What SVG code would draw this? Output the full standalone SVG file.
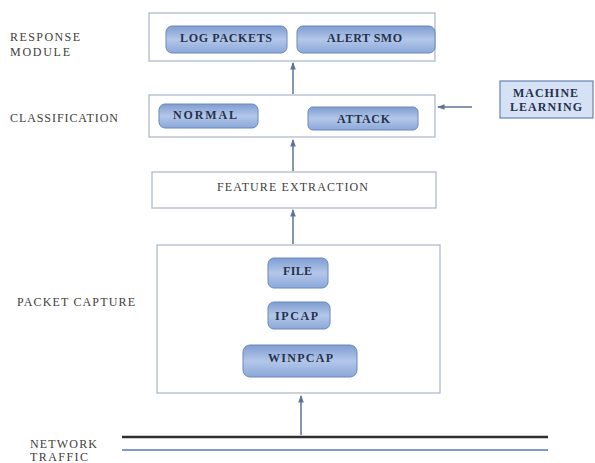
<svg xmlns="http://www.w3.org/2000/svg" width="595" height="463" viewBox="0 0 595 463">
<defs>
<linearGradient id="pill" x1="0" y1="0" x2="0" y2="1">
<stop offset="0" stop-color="#7f9dd1"/>
<stop offset="0.5" stop-color="#b3c7e9"/>
<stop offset="1" stop-color="#8ba8d9"/>
</linearGradient>
<marker id="ah" viewBox="0 0 8 8" refX="7" refY="4" markerWidth="5" markerHeight="5" orient="auto">
<path d="M0,1 L8,4 L0,7 z" fill="#5d7399"/>
</marker>
</defs>
<style>
.frame{fill:#ffffff;stroke:#aab6ca;stroke-width:1.2}
.pill{fill:url(#pill);stroke:#6b87bb;stroke-width:1}
.lbl{font-family:"Liberation Serif",serif;font-size:12px;fill:#404040}
.pt{font-family:"Liberation Serif",serif;font-size:12px;fill:#26324d;text-anchor:middle;font-weight:bold}
.ct{font-family:"Liberation Serif",serif;font-size:12px;fill:#404040;text-anchor:middle}
.conn{stroke:#5d7399;stroke-width:1.5;fill:none;marker-end:url(#ah)}
</style>
<rect width="595" height="463" fill="#ffffff"/>

<g id="labels">
<text class="lbl" x="10" y="41" textLength="70" lengthAdjust="spacing">RESPONSE</text>
<text class="lbl" x="10" y="56" textLength="60" lengthAdjust="spacing">MODULE</text>
<text class="lbl" x="10" y="122" textLength="108" lengthAdjust="spacing">CLASSIFICATION</text>
<text class="lbl" x="17" y="306" textLength="118" lengthAdjust="spacing">PACKET CAPTURE</text>
<text class="lbl" x="30" y="448" textLength="67" lengthAdjust="spacing">NETWORK</text>
<text class="lbl" x="30" y="461" font-size="11" textLength="58" lengthAdjust="spacing">TRAFFIC</text>
</g>

<g id="response-module">
<rect class="frame" x="149" y="13" width="286" height="48"/>
<g id="log-packets">
<rect class="pill" x="166" y="26" width="121" height="27" rx="6"/>
<text class="pt" x="226" y="41.5" textLength="92" lengthAdjust="spacing">LOG PACKETS</text>
</g>
<g id="alert-smo">
<rect class="pill" x="297" y="26" width="138" height="27" rx="6"/>
<text class="pt" x="364.5" y="41.5" textLength="75" lengthAdjust="spacing">ALERT SMO</text>
</g>
</g>

<g id="classification">
<rect class="frame" x="149" y="95" width="286" height="42"/>
<g id="normal">
<rect class="pill" x="159" y="104" width="99" height="24" rx="6"/>
<text class="pt" x="205" y="118.5" textLength="64" lengthAdjust="spacing">NORMAL</text>
</g>
<g id="attack">
<rect class="pill" x="308" y="107" width="110" height="23" rx="5"/>
<text class="pt" x="363.5" y="122.5" textLength="53" lengthAdjust="spacing">ATTACK</text>
</g>
</g>

<g id="machine-learning">
<rect x="500" y="81" width="93" height="37" fill="#d5e1f4" stroke="#6783b5" stroke-width="1.2"/>
<text class="pt" x="545.5" y="97" font-weight="normal" textLength="65" lengthAdjust="spacing">MACHINE</text>
<text class="pt" x="546" y="111" font-weight="normal" textLength="72" lengthAdjust="spacing">LEARNING</text>
</g>

<g id="feature-extraction">
<rect class="frame" x="152" y="172" width="284" height="36"/>
<text class="ct" x="292.5" y="191" textLength="151" lengthAdjust="spacing">FEATURE EXTRACTION</text>
</g>

<g id="packet-capture">
<rect class="frame" x="157" y="245" width="283" height="148"/>
<g id="file">
<rect class="pill" x="268" y="258" width="60" height="30" rx="6"/>
<text class="pt" x="297.5" y="274.5" textLength="29" lengthAdjust="spacing">FILE</text>
</g>
<g id="ipcap">
<rect class="pill" x="268" y="302" width="62" height="27" rx="6"/>
<text class="pt" x="296.5" y="319.5" textLength="43" lengthAdjust="spacing">IPCAP</text>
</g>
<g id="winpcap">
<rect class="pill" x="243" y="345" width="114" height="32" rx="7"/>
<text class="pt" x="300.5" y="361.5" textLength="65" lengthAdjust="spacing">WINPCAP</text>
</g>
</g>

<g id="network-traffic">
<line x1="122" y1="437" x2="548" y2="437" stroke="#2e2e2e" stroke-width="2.5"/>
<line x1="122" y1="450" x2="548" y2="450" stroke="#7f9ccc" stroke-width="2"/>
</g>

<g id="connectors">
<line class="conn" x1="293" y1="94" x2="293" y2="63"/>
<line class="conn" x1="293" y1="171" x2="293" y2="140"/>
<line class="conn" x1="293" y1="244" x2="293" y2="210"/>
<line class="conn" x1="301" y1="435" x2="301" y2="396"/>
<line class="conn" x1="472" y1="107" x2="438" y2="107"/>
</g>
</svg>
